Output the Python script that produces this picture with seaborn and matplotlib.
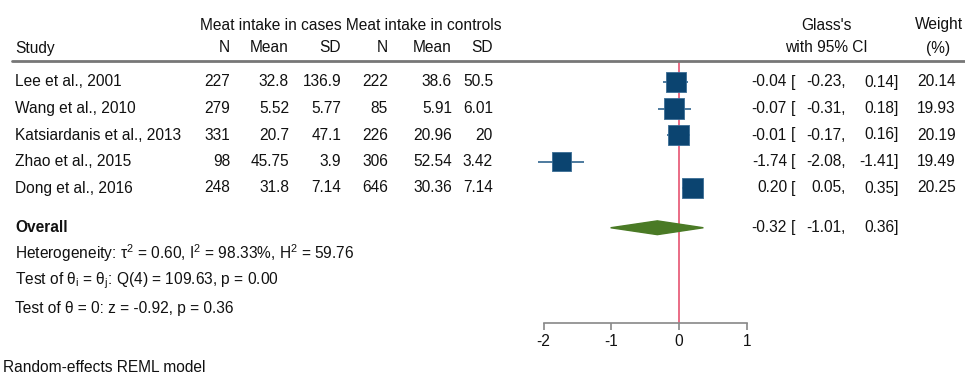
import matplotlib
matplotlib.use("Agg")
import matplotlib.pyplot as plt
import pandas as pd
import seaborn as sns

# study level data
studies = ["Lee et al., 2001", "Wang et al., 2010", "Katsiardanis et al., 2013",
           "Zhao et al., 2015", "Dong et al., 2016"]
case_n = ["227", "279", "331", "98", "248"]
case_mean = ["32.8", "5.52", "20.7", "45.75", "31.8"]
case_sd = ["136.9", "5.77", "47.1", "3.9", "7.14"]
ctrl_n = ["222", "85", "226", "306", "646"]
ctrl_mean = ["38.6", "5.91", "20.96", "52.54", "30.36"]
ctrl_sd = ["50.5", "6.01", "20", "3.42", "7.14"]
effect = [-0.04, -0.07, -0.01, -1.74, 0.20]
ci_low = [-0.23, -0.31, -0.17, -2.08, 0.05]
ci_high = [0.14, 0.18, 0.16, -1.41, 0.35]
weight = [20.14, 19.93, 20.19, 19.49, 20.25]

overall = -0.32
overall_low = -1.01
overall_high = 0.36
xticks = [-2, -1, 0, 1]

df = pd.DataFrame({"study": studies, "row": range(len(studies)), "effect": effect,
                   "low": ci_low, "high": ci_high, "weight": weight})

sns.set_style("white")
plt.rcParams["font.family"] = ["Liberation Sans", "DejaVu Sans"]
plt.rcParams["mathtext.fontset"] = "custom"
plt.rcParams["mathtext.rm"] = "Liberation Sans"
plt.rcParams["mathtext.it"] = "Liberation Sans"

W, H = 965, 376
fig = plt.figure(figsize=(W / 100, H / 100), dpi=100)
ax = fig.add_axes([0, 0, 1, 1])

# pixel -> data helpers (x: effect scale, y: row index)
x0, xs = 679, 67.7
y0, ys = 82, 26.5
def px(x):
    return (x - x0) / xs
def py(y):
    return (y - y0) / ys

ax.set_xlim(px(0), px(W))
ax.set_ylim(py(H), py(0))

navy = "#0b4470"
green = "#4a7a25"
fs = 11.2
txt = "#111111"

# header
ax.text(px(200), py(25), "Meat intake in cases Meat intake in controls", fontsize=fs, color=txt, va="center")
ax.text(px(15), py(48), "Study", fontsize=fs, color=txt, va="center")
for label, xr in zip(["N", "Mean", "SD", "N", "Mean", "SD"], [230, 289, 341, 388, 452, 493]):
    ax.text(px(xr), py(48), label, fontsize=fs, color=txt, va="center", ha="right")
ax.text(px(826), py(25), "Glass's", fontsize=fs, color=txt, va="center", ha="center")
ax.text(px(826), py(48), "with 95% CI", fontsize=fs, color=txt, va="center", ha="center")
ax.text(px(963), py(25), "Weight", fontsize=fs, color=txt, va="center", ha="right")
ax.text(px(938), py(48), "(%)", fontsize=fs, color=txt, va="center", ha="center")
ax.plot([px(12), px(W)], [py(61), py(61)], color="#777777", lw=2)

# table rows
cols = [case_n, case_mean, case_sd, ctrl_n, ctrl_mean, ctrl_sd]
for i, s in enumerate(studies):
    ax.text(px(15), i, s, fontsize=fs, color=txt, va="center")
    for col, xr in zip(cols, [230, 289, 341, 388, 452, 493]):
        ax.text(px(xr), i, col[i], fontsize=fs, color=txt, va="center", ha="right")

def ci_text(y, e, lo, hi, w=None):
    ax.text(px(787), y, f"{e:.2f}", fontsize=fs, color=txt, va="center", ha="right")
    ax.text(px(791), y, "[", fontsize=fs, color=txt, va="center", ha="left")
    ax.text(px(846), y, f"{lo:.2f},", fontsize=fs, color=txt, va="center", ha="right")
    ax.text(px(899), y, f"{hi:.2f}]", fontsize=fs, color=txt, va="center", ha="right")
    if w is not None:
        ax.text(px(956), y, f"{w:.2f}", fontsize=fs, color=txt, va="center", ha="right")

for i in range(len(studies)):
    ci_text(i, effect[i], ci_low[i], ci_high[i], weight[i])

# forest marks
ax.vlines(0, py(61), py(323), color="#e8607c", lw=1.3, zorder=1)
ax.hlines(df["row"], df["low"], df["high"], color="#3f6f96", lw=1.3, zorder=2)
sns.scatterplot(data=df, x="effect", y="row", size="weight", sizes=(190, 220),
                marker="s", color=navy, edgecolor="#3a6d95", linewidth=0.6,
                legend=False, ax=ax, zorder=3)

oy = 5.5
dh = 0.26
ax.fill([overall_low, overall, overall_high, overall],
        [oy, oy - dh, oy, oy + dh], color=green, zorder=3)
ax.text(px(15), oy, "Overall", fontsize=fs, color=txt, va="center", fontweight="bold")
ci_text(oy, overall, overall_low, overall_high)

ax.text(px(15), py(253), r"Heterogeneity: τ$^{2}$ = 0.60, I$^{2}$ = 98.33%, H$^{2}$ = 59.76",
        fontsize=fs, color=txt, va="center")
ax.text(px(15), py(281), r"Test of θ$_{i}$ = θ$_{j}$: Q(4) = 109.63, p = 0.00",
        fontsize=fs, color=txt, va="center")
ax.text(px(15), py(308), "Test of θ = 0: z = -0.92, p = 0.36",
        fontsize=fs, color=txt, va="center")
ax.text(px(3), py(367), "Random-effects REML model", fontsize=fs, color=txt, va="center")

# x axis
for side in ["left", "right", "top"]:
    ax.spines[side].set_visible(False)
ax.spines["bottom"].set_position(("data", py(323)))
ax.spines["bottom"].set_bounds(xticks[0], xticks[-1])
ax.spines["bottom"].set_color("#888888")
ax.spines["bottom"].set_linewidth(1.2)
ax.set_xticks(xticks)
ax.set_xticklabels([str(t) for t in xticks])
ax.tick_params(axis="x", direction="out", length=5, width=1.2, color="#888888",
               labelsize=fs, labelcolor=txt, pad=3, bottom=True)
ax.set_yticks([])
ax.set_xlabel("")
ax.set_ylabel("")

fig.savefig("out.png", dpi=100)
